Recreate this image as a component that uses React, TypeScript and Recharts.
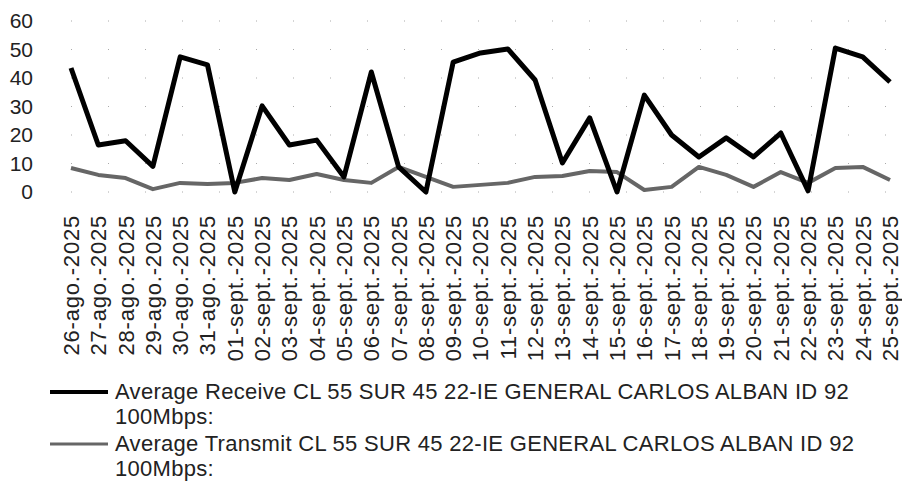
import React from 'react';
import { LineChart, Line, XAxis, YAxis, CartesianGrid, Legend } from 'recharts';

const dates = [
  '26-ago.-2025', '27-ago.-2025', '28-ago.-2025', '29-ago.-2025', '30-ago.-2025', '31-ago.-2025',
  '01-sept.-2025', '02-sept.-2025', '03-sept.-2025', '04-sept.-2025', '05-sept.-2025', '06-sept.-2025',
  '07-sept.-2025', '08-sept.-2025', '09-sept.-2025', '10-sept.-2025', '11-sept.-2025', '12-sept.-2025',
  '13-sept.-2025', '14-sept.-2025', '15-sept.-2025', '16-sept.-2025', '17-sept.-2025', '18-sept.-2025',
  '19-sept.-2025', '20-sept.-2025', '21-sept.-2025', '22-sept.-2025', '23-sept.-2025', '24-sept.-2025',
  '25-sept.-2025',
];

const receive = [
  43.5, 16.5, 18, 9, 47.4, 44.6, 0, 30.2, 16.5, 18.2, 5.3, 42.1, 8.8, 0, 45.6, 48.8,
  50.2, 39.3, 10.2, 26, 0, 34, 20, 12.3, 19, 12.3, 20.7, 0.4, 50.5, 47.4, 38.6,
];

const transmit = [
  8.4, 6, 4.9, 1, 3.2, 2.8, 3.2, 4.9, 4.2, 6.3, 4.2, 3.2, 8.8, 5.3, 1.8, 2.5,
  3.2, 5.3, 5.6, 7.4, 7, 0.7, 1.8, 8.8, 6, 1.8, 7, 3.2, 8.4, 8.8, 4.2,
];

const yTicks = [0, 10, 20, 30, 40, 50, 60];

const RECEIVE_NAME = 'Average Receive CL 55 SUR 45 22-IE GENERAL CARLOS ALBAN ID 92 100Mbps:';
const TRANSMIT_NAME = 'Average Transmit CL 55 SUR 45 22-IE GENERAL CARLOS ALBAN ID 92 100Mbps:';

const FONT = '"Liberation Sans", Arial, sans-serif';

const data = dates.map((date, i) => ({
  date,
  receive: receive[i],
  transmit: transmit[i],
}));

// rotated date labels, reading bottom to top
const DateTick = ({ x, y, payload }: { x?: number; y?: number; payload?: { value: string } }) => (
  <text
    x={x}
    y={y}
    transform={`rotate(-90 ${x} ${y})`}
    textAnchor="end"
    dy="0.36em"
    fontSize={22}
    letterSpacing={0.8}
    fontFamily={FONT}
    fill="#222"
  >
    {payload?.value}
  </text>
);

const legendItems = [
  { name: RECEIVE_NAME, color: '#000', width: 4 },
  { name: TRANSMIT_NAME, color: '#666', width: 3 },
];

const ChartLegend = () => (
  <div style={{ height: 110, paddingTop: 8, boxSizing: 'border-box', fontFamily: FONT }}>
    {legendItems.map((item) => (
      <div key={item.name} style={{ position: 'relative', height: 52 }}>
        <svg width={60} height={10} style={{ position: 'absolute', left: 50, top: 8 }}>
          <line x1={0} y1={5} x2={58} y2={5} stroke={item.color} strokeWidth={item.width} />
        </svg>
        <div
          style={{
            marginLeft: 115,
            width: 770,
            fontSize: 22,
            lineHeight: '25px',
            letterSpacing: 0.3,
            color: '#222',
            textAlign: 'left',
          }}
        >
          {item.name}
        </div>
      </div>
    ))}
  </div>
);

export default function App() {
  return (
    <div style={{ position: 'absolute', left: 0, top: 0, background: '#fff' }}>
      <LineChart
        width={902}
        height={481}
        data={data}
        margin={{ top: 21, right: 12, left: 0, bottom: 0 }}
      >
        <CartesianGrid vertical={false} stroke="#aaa" strokeDasharray="1 36" />
        <XAxis
          dataKey="date"
          interval={0}
          height={179}
          axisLine={false}
          tickLine={false}
          tickSize={0}
          tickMargin={23}
          tick={<DateTick />}
        />
        <YAxis
          domain={[0, 60]}
          ticks={yTicks}
          interval={0}
          width={71}
          axisLine={false}
          tickLine={false}
          tickSize={0}
          tickMargin={38}
          tick={{ fontSize: 21, fill: '#222', fontFamily: FONT }}
        />
        <Legend
          verticalAlign="bottom"
          content={<ChartLegend />}
          wrapperStyle={{ left: 0, width: 902 }}
        />
        <Line
          type="linear"
          dataKey="transmit"
          name={TRANSMIT_NAME}
          stroke="#666"
          strokeWidth={4}
          strokeLinejoin="round"
          dot={false}
          isAnimationActive={false}
        />
        <Line
          type="linear"
          dataKey="receive"
          name={RECEIVE_NAME}
          stroke="#000"
          strokeWidth={5}
          strokeLinejoin="round"
          dot={false}
          isAnimationActive={false}
        />
      </LineChart>
    </div>
  );
}
